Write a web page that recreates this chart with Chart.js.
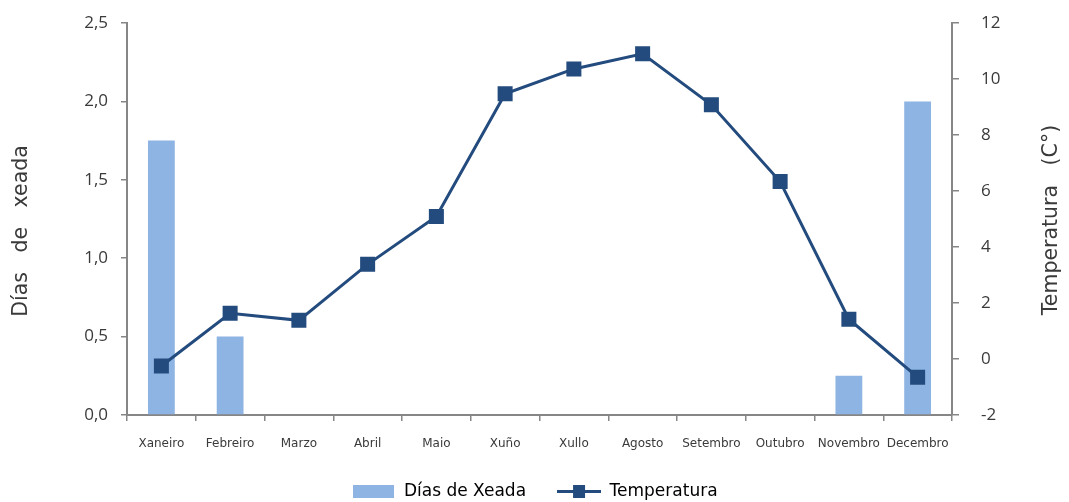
<!DOCTYPE html>
<html>
<head>
<meta charset="utf-8">
<script src="https://cdn.jsdelivr.net/npm/chart.js@4"></script>
<style>
  html, body { margin: 0; padding: 0; background: #fff; }
  #wrap { width: 1069px; height: 502px; }
</style>
</head>
<body>
<div id="wrap"><canvas id="xeada"></canvas></div>
<script>
const months = ['Xaneiro', 'Febreiro', 'Marzo', 'Abril', 'Maio', 'Xuño', 'Xullo',
  'Agosto', 'Setembro', 'Outubro', 'Novembro', 'Decembro'];
const frostDays = [1.75, 0.5, 0, 0, 0, 0, 0, 0, 0, 0, 0.25, 2.0];
const temperature = [-0.25, 1.63, 1.38, 3.38, 5.09, 9.47, 10.36, 10.9, 9.08, 6.34, 1.42, -0.65];

const barColor = '#8EB4E3';
const lineColor = '#234B7E';
const axisColor = '#868686';
const textColor = '#3a3a3a';
const titleFont = 'DejaVu Sans';

// legend swatches drawn as small canvases
function swatchBar() {
  const c = document.createElement('canvas');
  c.width = 41; c.height = 13;
  const g = c.getContext('2d');
  g.fillStyle = barColor;
  g.fillRect(0, 0, 41, 13);
  return c;
}
function swatchLine() {
  const c = document.createElement('canvas');
  c.width = 44; c.height = 13;
  const g = c.getContext('2d');
  g.fillStyle = lineColor;
  g.fillRect(0, 5, 44, 3);
  g.fillRect(16, 0, 12, 13);
  return c;
}

// fixed legend height so the plot keeps its room
const legendHeight = {
  id: 'legendHeight',
  beforeInit(chart) {
    const fit = chart.legend.fit;
    chart.legend.fit = function () {
      fit.call(this);
      this.height = 50;
    };
  },
};

// both axis titles, rotated to read upwards
const axisTitles = {
  id: 'axisTitles',
  afterDraw(chart) {
    const g = chart.ctx;
    const mid = (chart.chartArea.top + chart.chartArea.bottom) / 2;
    const draw = (text, x, y) => {
      g.save();
      g.translate(x, y);
      g.rotate(-Math.PI / 2);
      g.textAlign = 'center';
      g.textBaseline = 'middle';
      g.fillStyle = textColor;
      g.font = '20.5px "' + titleFont + '"';
      g.fillText(text, 0, 0);
      g.restore();
    };
    draw('Días   de   xeada', chart.scales.y.left + 22, mid + 12);
    draw('Temperatura   (C°)', chart.scales.y1.right - 17, mid + 1);
  },
};

const noTopPad = (scale) => { scale.paddingTop = 0; };

const ctx = document.getElementById('xeada').getContext('2d');

new Chart(ctx, {
  data: {
    labels: months,
    datasets: [
      {
        type: 'line',
        label: 'Temperatura',
        data: temperature,
        yAxisID: 'y1',
        borderColor: lineColor,
        backgroundColor: lineColor,
        borderWidth: 3,
        pointStyle: 'rect',
        pointRadius: 8.5,
        pointHoverRadius: 8.5,
        tension: 0,
        order: 0,
      },
      {
        type: 'bar',
        label: 'Días de Xeada',
        data: frostDays,
        yAxisID: 'y',
        backgroundColor: barColor,
        barPercentage: 0.39,
        categoryPercentage: 1,
        order: 1,
      },
    ],
  },
  plugins: [legendHeight, axisTitles],
  options: {
    responsive: true,
    maintainAspectRatio: false,
    animation: false,
    layout: { padding: { top: 23, left: 0, right: 0, bottom: 0 } },
    plugins: {
      tooltip: { enabled: false },
      legend: {
        position: 'bottom',
        labels: {
          usePointStyle: true,
          pointStyleWidth: 44,
          padding: 31,
          color: textColor,
          font: { family: titleFont, size: 17 },
          generateLabels: function () {
            return [
              { text: 'Días de Xeada', pointStyle: swatchBar(), fillStyle: barColor, strokeStyle: barColor, lineWidth: 0, datasetIndex: 1 },
              { text: 'Temperatura', pointStyle: swatchLine(), fillStyle: lineColor, strokeStyle: lineColor, lineWidth: 0, datasetIndex: 0 },
            ];
          },
        },
      },
    },
    scales: {
      x: {
        offset: true,
        grid: { offset: true, drawOnChartArea: false, color: axisColor, tickLength: 6, lineWidth: 1.5 },
        border: { color: axisColor, width: 2 },
        ticks: { color: textColor, font: { family: titleFont, size: 12 }, maxRotation: 0, autoSkip: false, padding: 16 },
        afterFit: function (scale) { scale.height = 37; },
      },
      y: {
        position: 'left',
        min: 0,
        max: 2.5,
        ticks: {
          stepSize: 0.5,
          color: textColor,
          padding: 13,
          font: { family: 'Open Sans', size: 17 },
          callback: (v) => v.toFixed(1).replace('.', ','),
        },
        grid: { drawOnChartArea: false, color: axisColor, tickLength: 6, lineWidth: 1.5 },
        border: { color: axisColor, width: 2 },
        afterFit: function (scale) { scale.width = 127; noTopPad(scale); },
      },
      y1: {
        position: 'right',
        min: -2,
        max: 12,
        ticks: {
          stepSize: 2,
          color: textColor,
          padding: 22,
          font: { family: 'Open Sans', size: 17 },
        },
        grid: { drawOnChartArea: false, color: axisColor, tickLength: 7, lineWidth: 1.5 },
        border: { color: axisColor, width: 2 },
        afterFit: function (scale) { scale.width = 117; noTopPad(scale); },
      },
    },
  },
});
</script>
</body>
</html>
